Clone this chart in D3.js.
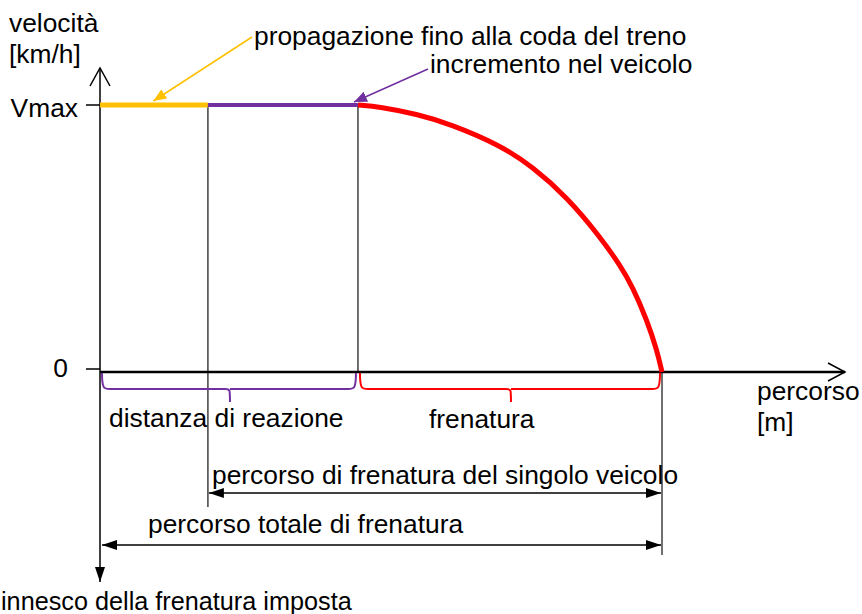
<!DOCTYPE html>
<html>
<head>
<meta charset="utf-8">
<script src="https://cdn.jsdelivr.net/npm/d3@7"></script>
<style>
  body { margin: 0; background: #fff; }
  text { font-family: "Liberation Sans", Arial, sans-serif; font-size: 25px; fill: #000; }
</style>
</head>
<body>
<div id="chart"></div>
<script>
// distances in % of the total braking path, speeds in % of Vmax
const phaseStops = [0, 19.2, 45.9, 100];          // innesco, fine propagazione, fine reazione, arresto
const phaseColors = ['#FFC000', '#7030A0'];
const brakeS = [45.9, 49.8, 56.4, 62.3, 71.2, 77.0, 83.1, 89.0, 92.5, 94.8, 97.3, 99.1, 100];
const brakeV = [100, 99.3, 96.6, 92.9, 85.0, 76.8, 65.5, 50.6, 40.1, 31.8, 19.5, 8.2, 0];
const speedTicks = [0, 100];
const speedLabels = ['0', 'Vmax'];

const width = 862, height = 614;

const svg = d3.select('#chart')
    .append('svg')
    .attr('width', width)
    .attr('height', height);

const x = d3.scaleLinear().domain([0, 100]).range([100, 662]);
const y = d3.scaleLinear().domain([0, 100]).range([372, 105]);

// markers
const defs = svg.append('defs');
function marker(id, color, w, h) {
    defs.append('marker')
        .attr('id', id)
        .attr('viewBox', `0 0 ${w} ${h}`)
        .attr('refX', w).attr('refY', h / 2)
        .attr('markerWidth', w).attr('markerHeight', h)
        .attr('markerUnits', 'userSpaceOnUse')
        .attr('orient', 'auto-start-reverse')
        .append('path')
        .attr('d', `M0,0L${w},${h / 2}L0,${h}Z`)
        .attr('fill', color);
}
marker('tri', '#000', 15, 10);
marker('triOrange', '#FFC000', 13, 11);
marker('triPurple', '#7030A0', 13, 11);

function label(txt, px, py, anchor, sx) {
    svg.append('text')
        .attr('transform', `translate(${px},${py}) scale(${sx || 1.055},1)`)
        .attr('text-anchor', anchor || 'start')
        .text(txt);
}

// guide lines
const guide = svg.append('g').attr('stroke', '#404040').attr('stroke-width', 1.5);
guide.append('line').attr('x1', x(phaseStops[1])).attr('x2', x(phaseStops[1]))
    .attr('y1', y(100)).attr('y2', 507);
guide.append('line').attr('x1', x(phaseStops[2])).attr('x2', x(phaseStops[2]))
    .attr('y1', y(100)).attr('y2', y(0));
guide.append('line').attr('x1', x(phaseStops[3])).attr('x2', x(phaseStops[3]))
    .attr('y1', y(0)).attr('y2', 555);

// axes
const ax = svg.append('g').attr('stroke', '#000').attr('fill', 'none');
ax.append('line').attr('x1', x(0)).attr('x2', x(0)).attr('y1', 68).attr('y2', 582)
    .attr('stroke-width', 1.5).attr('marker-end', 'url(#tri)');
ax.append('path').attr('d', `M${x(0) - 10},86L${x(0)},68L${x(0) + 10},86`).attr('stroke-width', 1.5);
ax.append('line').attr('x1', x(0)).attr('x2', 845).attr('y1', y(0)).attr('y2', y(0)).attr('stroke-width', 2.5);
ax.append('path').attr('d', `M828,${y(0) - 9}L845,${y(0)}L828,${y(0) + 9}`).attr('stroke-width', 1.5);

const tickLabelX = [68, 78];
const tickLabelDy = [5, 12];
speedTicks.forEach((v, i) => {
    const ty = y(v) - (v === 0 ? 3 : 0);
    ax.append('line').attr('x1', x(0) - 14).attr('x2', x(0))
        .attr('y1', ty).attr('y2', ty)
        .attr('stroke-width', 1.5);
    label(speedLabels[i], tickLabelX[i], y(v) + tickLabelDy[i], 'end');
});

label('velocità', 9, 32);
label('[km/h]', 9, 63);
label('percorso', 757, 400);
label('[m]', 757, 431);

// constant speed phases
for (let i = 0; i < 2; i++) {
    svg.append('line')
        .attr('x1', x(phaseStops[i])).attr('x2', x(phaseStops[i + 1]))
        .attr('y1', y(100)).attr('y2', y(100))
        .attr('stroke', phaseColors[i])
        .attr('stroke-width', i === 0 ? 5 : 4);
}

// braking curve
svg.append('path')
    .datum(brakeS.map((s, i) => [s, brakeV[i]]))
    .attr('d', d3.line().x(d => x(d[0])).y(d => y(d[1])).curve(d3.curveBasis))
    .attr('fill', 'none')
    .attr('stroke', '#FF0000')
    .attr('stroke-width', 5);

// leaders
svg.append('line').attr('x1', 252).attr('y1', 37).attr('x2', x(9.5)).attr('y2', y(100) - 4)
    .attr('stroke', '#FFC000').attr('stroke-width', 1.5).attr('marker-end', 'url(#triOrange)');
label('propagazione fino alla coda del treno', 254, 45);
svg.append('line').attr('x1', 428).attr('y1', 69).attr('x2', x(45.2)).attr('y2', y(100) - 3)
    .attr('stroke', '#7030A0').attr('stroke-width', 1.5).attr('marker-end', 'url(#triPurple)');
label('incremento nel veicolo', 430, 73);

// braces
function brace(a, b, color) {
    const x0 = x(a) + 2, x1 = x(b) - 2, m = (x0 + x1) / 2 + 1, t = y(0) + 1, h = y(0) + 17;
    const d = `M${x0},${t}C${x0},${h} ${x0 + 2},${h} ${x0 + 8},${h}` +
        `L${m - 5},${h}C${m},${h} ${m},${h} ${m},${h + 13}` +
        `M${m},${h}C${m},${h} ${m},${h} ${m + 5},${h}` +
        `L${x1 - 8},${h}C${x1 - 2},${h} ${x1},${h} ${x1},${t}`;
    svg.append('path').attr('d', d).attr('fill', 'none')
        .attr('stroke', color).attr('stroke-width', 2);
}
brace(phaseStops[0], phaseStops[2], '#7030A0');
brace(phaseStops[2], phaseStops[3], '#FF0000');
label('distanza di reazione', 109, 427);
label('frenatura', 429, 428);

// dimension arrows
svg.append('line').attr('x1', x(phaseStops[1]) + 1).attr('x2', x(100) - 1)
    .attr('y1', 493).attr('y2', 493)
    .attr('stroke', '#000').attr('stroke-width', 1.5)
    .attr('marker-start', 'url(#tri)').attr('marker-end', 'url(#tri)');
label('percorso di frenatura del singolo veicolo', 212, 484);
svg.append('line').attr('x1', x(0) + 2).attr('x2', x(100) - 1)
    .attr('y1', 545).attr('y2', 545)
    .attr('stroke', '#000').attr('stroke-width', 1.5)
    .attr('marker-start', 'url(#tri)').attr('marker-end', 'url(#tri)');
label('percorso totale di frenatura', 148, 533);
label('innesco della frenatura imposta', 1, 610, 'start', 1.01);
</script>
</body>
</html>
